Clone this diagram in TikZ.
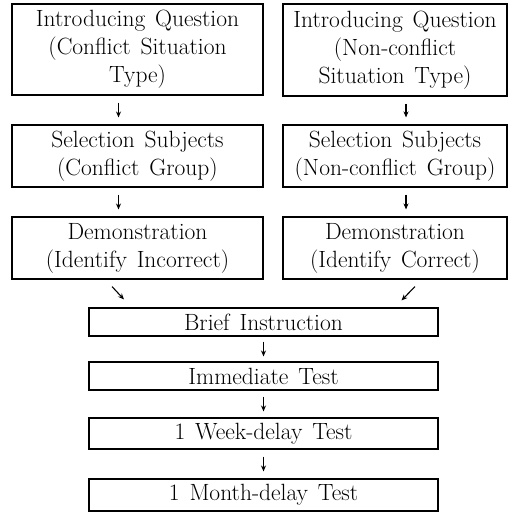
\documentclass[tikz,border=0pt]{standalone}
\usetikzlibrary{arrows.meta}
\newcommand\boxfont{\fontsize{23.5}{28}\selectfont\spaceskip=0.42em plus 0.1em minus 0.1em\relax}
\begin{document}
\begin{tikzpicture}[x=1pt,y=-1pt,
  box/.style={draw, line width=1.1pt, inner sep=0pt, align=center, font=\boxfont},
  arr/.style={line width=1.1pt, -{Stealth[length=6pt,width=5pt]}}]
\useasboundingbox (0,0) rectangle (509,514);
% upper left column
\node[box, minimum width=251pt, minimum height=91pt] (q1) at (137.5,49.5)
  {Introducing Question\\(Conflict Situation\\Type)};
\node[box, minimum width=251pt, minimum height=62pt] (s1) at (137.5,156)
  {Selection Subjects\\(Conflict Group)};
\node[box, minimum width=251pt, minimum height=62pt] (d1) at (137.5,248)
  {Demonstration\\(Identify Incorrect)};
% upper right column
\node[box, minimum width=224pt, minimum height=92pt] (q2) at (395,50)
  {Introducing Question\\(Non-conflict\\Situation Type)};
\node[box, minimum width=224pt, minimum height=62pt] (s2) at (395,156)
  {Selection Subjects\\(Non-conflict Group)};
\node[box, minimum width=224pt, minimum height=62pt] (d2) at (395,248)
  {Demonstration\\(Identify Correct)};
% lower chain
\node[box, minimum width=349pt, minimum height=28pt] (b) at (263.5,322) {Brief Instruction};
\node[box, minimum width=349pt, minimum height=28pt] (i) at (263.5,376) {Immediate Test};
\node[box, minimum width=349pt, minimum height=31pt] (w) at (263.5,433.5) {1 Week-delay Test};
\node[box, minimum width=349pt, minimum height=32pt] (m) at (263.5,495) {1 Month-delay Test};
% arrows
\draw[arr, shorten <=7pt, shorten >=7pt] ([xshift=-19pt]q1.south) -- ([xshift=-19pt]s1.north);
\draw[arr, shorten <=7pt, shorten >=7pt] ([xshift=-19pt]s1.south) -- ([xshift=-19pt]d1.north);
\draw[arr, shorten <=7pt, shorten >=7pt] ([xshift=11pt]q2.south) -- ([xshift=11pt]s2.north);
\draw[arr, shorten <=7pt, shorten >=7pt] ([xshift=11pt]s2.south) -- ([xshift=11pt]d2.north);
\draw[arr] ([xshift=-25.5pt,yshift=-7pt]d1.south) -- ([xshift=-139.5pt,yshift=8pt]b.north);
\draw[arr] ([xshift=20pt,yshift=-7pt]d2.south) -- ([xshift=138pt,yshift=7pt]b.north);
\draw[arr, shorten <=5pt, shorten >=5pt] (b) -- (i);
\draw[arr, shorten <=6pt, shorten >=6pt] (i) -- (w);
\draw[arr, shorten <=7pt, shorten >=7pt] (w) -- (m);
\end{tikzpicture}
\end{document}
